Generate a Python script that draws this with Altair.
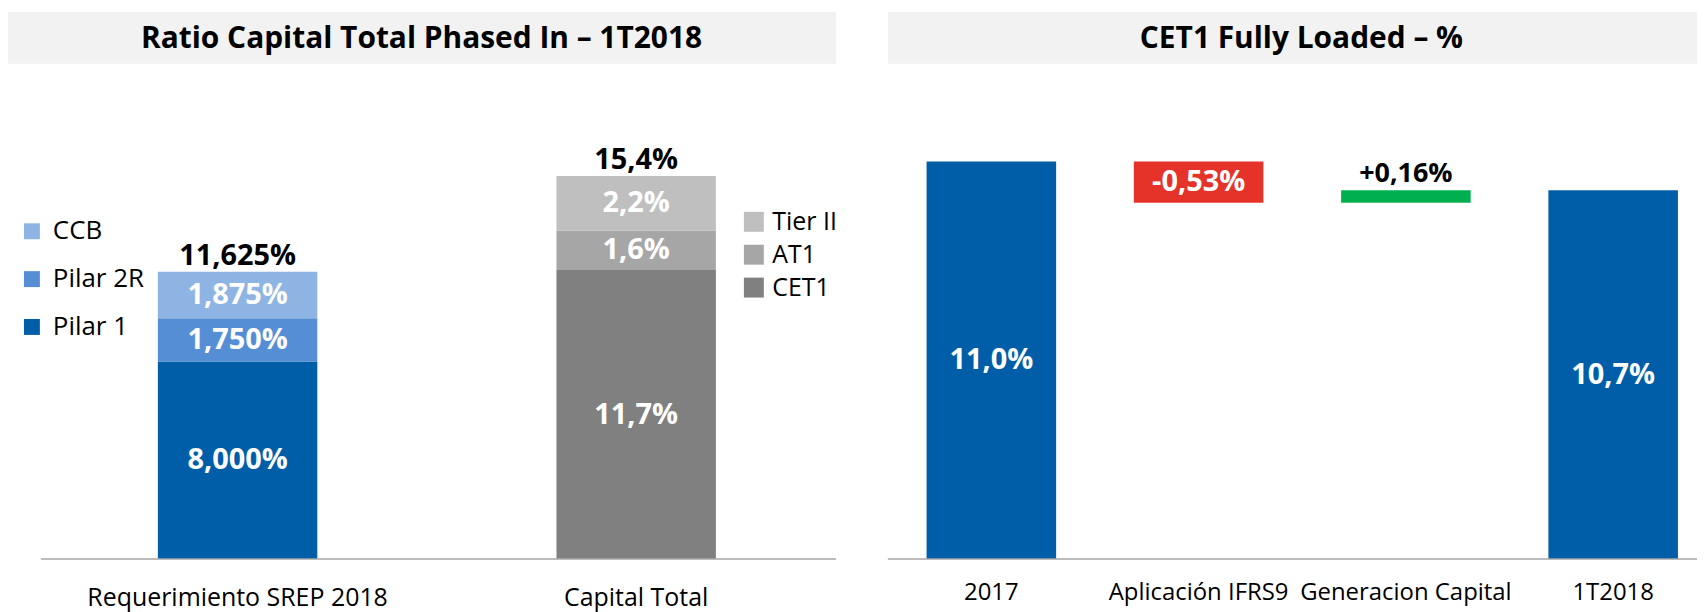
import altair as alt
import pandas as pd

# ---------------- data ----------------
left_title = "Ratio Capital Total Phased In – 1T2018"
right_title = "CET1 Fully Loaded – %"

left_cats = ["Requerimiento SREP 2018", "Capital Total"]

srep_segments = ["Pilar 1", "Pilar 2R", "CCB"]
srep_values = [8.0, 1.75, 1.875]
srep_labels = ["8,000%", "1,750%", "1,875%"]
srep_total_label = "11,625%"

cap_segments = ["CET1", "AT1", "Tier II"]
cap_values = [11.7, 1.6, 2.2]
cap_labels = ["11,7%", "1,6%", "2,2%"]
cap_total_label = "15,4%"

blue_colors = ["#005EA8", "#558ED5", "#8EB4E3"]
gray_colors = ["#808080", "#A6A6A6", "#BFBFBF"]

wf_cats = ["2017", "Aplicación IFRS9", "Generacion Capital", "1T2018"]
wf_values = [11.04, -0.53, 0.16, 10.67]
wf_labels = ["11,0%", "-0,53%", "+0,16%", "10,7%"]
wf_kinds = ["total", "delta", "delta", "total"]

# ---------------- styling constants ----------------
FONT = "Open Sans"
LW, RW, H = 828, 812, 552
LEFT_YMAX = 22.26
RIGHT_YMIN, RIGHT_YMAX = 5.925, 13.0
BLUE = "#005EA8"
RED = "#E5332A"
GREEN = "#00B050"
AXIS_GRAY = "#A6A6A6"
BAR_GRAY = "#F2F2F2"
VAL_FS = 29

# ---------------- left panel tables ----------------
def stack(cat, segs, vals, labs):
    rows, base = [], 0.0
    for s, v, l in zip(segs, vals, labs):
        rows.append(dict(cat=cat, seg=s, y0=base, y1=base + v, mid=base + v / 2, label=l))
        base += v
    return pd.DataFrame(rows), base

blue_df, srep_total = stack(left_cats[0], srep_segments, srep_values, srep_labels)
gray_df, cap_total = stack(left_cats[1], cap_segments, cap_values, cap_labels)
tot_df = pd.DataFrame({"cat": left_cats, "y": [srep_total, cap_total],
                       "label": [srep_total_label, cap_total_label]})

lx = alt.X("cat:N", sort=left_cats,
           scale=alt.Scale(domain=left_cats, paddingInner=0.6, paddingOuter=0.335, align=0.55),
           axis=alt.Axis(title=None, labelAngle=0, domain=False, ticks=False, grid=False,
                         labelFont=FONT, labelFontSize=25, labelColor="#000000",
                         labelPadding=27, labelLimit=0))
lyscale = alt.Scale(domain=[0, LEFT_YMAX], nice=False, zero=True)

blue_bars = alt.Chart(blue_df).mark_bar().encode(
    x=lx,
    y=alt.Y("y1:Q", scale=lyscale, axis=None),
    y2="y0:Q",
    color=alt.Color("seg:N",
                    scale=alt.Scale(domain=["CCB", "Pilar 2R", "Pilar 1"],
                                    range=[blue_colors[2], blue_colors[1], blue_colors[0]]),
                    legend=alt.Legend(orient="none", legendX=8, legendY=210, title=None,
                                      symbolType="square", symbolSize=256, symbolStrokeWidth=0,
                                      labelFont=FONT, labelFontSize=26, labelColor="#000000",
                                      rowPadding=22, labelOffset=8, labelLimit=0)),
)
gray_bars = alt.Chart(gray_df).mark_bar().encode(
    x=lx,
    y=alt.Y("y1:Q", scale=lyscale, axis=None),
    y2="y0:Q",
    color=alt.Color("seg:N",
                    scale=alt.Scale(domain=["Tier II", "AT1", "CET1"],
                                    range=[gray_colors[2], gray_colors[1], gray_colors[0]]),
                    legend=alt.Legend(orient="none", legendX=733, legendY=201, title=None,
                                      symbolType="square", symbolSize=400, symbolStrokeWidth=0,
                                      labelFont=FONT, labelFontSize=25, labelColor="#000000",
                                      rowPadding=7, labelOffset=6, labelLimit=0)),
)
seg_text = alt.Chart(pd.concat([blue_df, gray_df])).mark_text(
    font=FONT, fontWeight="bold", fontSize=VAL_FS, color="white", baseline="middle"
).encode(x=lx, y=alt.Y("mid:Q", scale=lyscale, axis=None), text="label:N")

tot_text = alt.Chart(tot_df).mark_text(
    font=FONT, fontWeight="bold", fontSize=VAL_FS, color="black", baseline="alphabetic", dy=-7
).encode(x=lx, y=alt.Y("y:Q", scale=lyscale, axis=None), text="label:N")

ltitle_df = pd.DataFrame({"t": [left_title]})
lbar = alt.Chart(ltitle_df).mark_rect(color=BAR_GRAY).encode(
    x=alt.value(-3), x2=alt.value(LW), y=alt.value(3), y2=alt.value(55))
ltext = alt.Chart(ltitle_df).mark_text(font=FONT, fontWeight="bold", fontSize=30,
                                       color="black", baseline="middle").encode(
    x=alt.value(412), y=alt.value(30), text="t:N")
lrule = alt.Chart(ltitle_df).mark_rule(color=AXIS_GRAY, strokeWidth=1.5).encode(
    x=alt.value(30), x2=alt.value(LW), y=alt.value(H))

left = alt.layer(lbar, ltext, blue_bars, gray_bars, seg_text, tot_text, lrule).resolve_scale(
    color="independent").properties(width=LW, height=H)

# ---------------- right panel table ----------------
rows, running = [], 0.0
for c, v, k, l in zip(wf_cats, wf_values, wf_kinds, wf_labels):
    if k == "total":
        y0, y1 = 0.0, v
        running = v
        col, tcol = BLUE, "white"
        ty = (v + RIGHT_YMIN) / 2
        tb = "middle"
    else:
        y0, y1 = running, running + v
        running = y1
        if v < 0:
            col, tcol, ty, tb = RED, "white", (y0 + y1) / 2, "middle"
        else:
            col, tcol, ty, tb = GREEN, "black", max(y0, y1), "top"
    rows.append(dict(cat=c, y0=y0, y1=y1, col=col, tcol=tcol, ty=ty, tb=tb, label=l))
wf_df = pd.DataFrame(rows)

rx = alt.X("cat:N", sort=wf_cats,
           scale=alt.Scale(domain=wf_cats, paddingInner=0.375, paddingOuter=0.1394, align=0.67),
           axis=alt.Axis(title=None, labelAngle=0, domain=False, ticks=False, grid=False,
                         labelFont=FONT, labelFontSize=24, labelColor="#000000",
                         labelPadding=22, labelLimit=0))
ryscale = alt.Scale(domain=[RIGHT_YMIN, RIGHT_YMAX], nice=False, zero=False)

wf_bars = alt.Chart(wf_df).mark_bar(clip=True).encode(
    x=rx, y=alt.Y("y1:Q", scale=ryscale, axis=None), y2="y0:Q",
    color=alt.Color("col:N", scale=None, legend=None))
wf_mid = alt.Chart(wf_df[wf_df["tb"] == "middle"]).mark_text(
    font=FONT, fontWeight="bold", fontSize=VAL_FS, baseline="middle").encode(
    x=rx, y=alt.Y("ty:Q", scale=ryscale, axis=None), text="label:N",
    color=alt.Color("tcol:N", scale=None, legend=None))
wf_top = alt.Chart(wf_df[wf_df["tb"] == "top"]).mark_text(
    font=FONT, fontWeight="bold", fontSize=27, baseline="alphabetic", dy=-8).encode(
    x=rx, y=alt.Y("ty:Q", scale=ryscale, axis=None), text="label:N",
    color=alt.Color("tcol:N", scale=None, legend=None))

rtitle_df = pd.DataFrame({"t": [right_title]})
rbar = alt.Chart(rtitle_df).mark_rect(color=BAR_GRAY).encode(
    x=alt.value(0), x2=alt.value(RW), y=alt.value(3), y2=alt.value(55))
rtext = alt.Chart(rtitle_df).mark_text(font=FONT, fontWeight="bold", fontSize=30,
                                       color="black", baseline="middle").encode(
    x=alt.value(415), y=alt.value(30), text="t:N")
rrule = alt.Chart(rtitle_df).mark_rule(color=AXIS_GRAY, strokeWidth=1.5).encode(
    x=alt.value(0), x2=alt.value(RW), y=alt.value(H))

right = alt.layer(rbar, rtext, wf_bars, wf_mid, wf_top, rrule).properties(width=RW, height=H)

chart = alt.hconcat(left, right, spacing=50).configure_view(stroke=None).properties(
    padding={"left": 0, "top": 0, "right": 0, "bottom": 0},
    background="white")

chart.save("out.html", embed_options={"renderer": "svg", "actions": False})
